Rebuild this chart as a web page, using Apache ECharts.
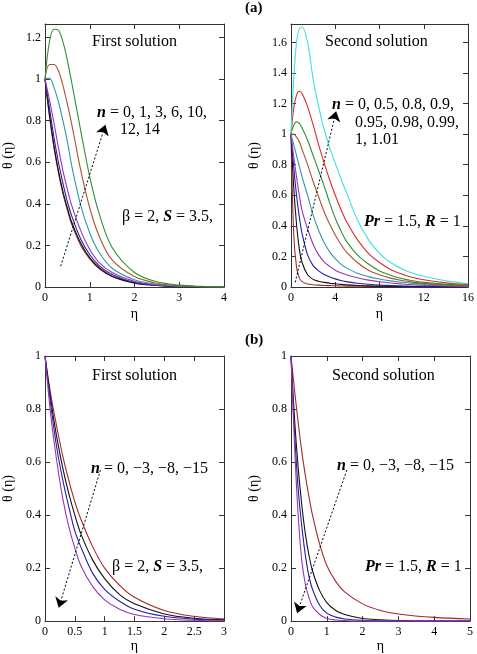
<!DOCTYPE html>
<html>
<head>
<meta charset="utf-8">
<script src="https://cdn.jsdelivr.net/npm/echarts@6/dist/echarts.min.js"></script>
<style>
html, body { margin: 0; padding: 0; background: #fff; }
#chart { width: 477px; height: 654px; }
</style>
</head>
<body>
<div id="chart"></div>
<script>
// (a) first solution: n = 0, 1, 3, 6, 10, 12, 14
const etaA1 = [0, 0.1, 0.2, 0.3, 0.4, 0.5, 0.6, 0.8, 1.0, 1.2, 1.5, 2.0, 2.5, 3.0, 3.5, 4.0];
const a1_n0  = [1, 0.82, 0.67, 0.55, 0.45, 0.37, 0.30, 0.20, 0.135, 0.09, 0.05, 0.018, 0.007, 0.003, 0.001, 0];
const a1_n1  = [1, 0.83, 0.68, 0.56, 0.46, 0.38, 0.31, 0.21, 0.14, 0.095, 0.052, 0.02, 0.008, 0.003, 0.001, 0];
const a1_n3  = [1, 0.86, 0.72, 0.60, 0.50, 0.41, 0.34, 0.23, 0.155, 0.105, 0.06, 0.022, 0.009, 0.003, 0.001, 0];
const a1_n6  = [1, 0.90, 0.79, 0.67, 0.56, 0.47, 0.39, 0.27, 0.18, 0.12, 0.07, 0.027, 0.01, 0.004, 0.001, 0];
const a1_n10 = [1, 1.005, 0.96, 0.89, 0.80, 0.70, 0.58, 0.39, 0.26, 0.17, 0.09, 0.035, 0.013, 0.005, 0.002, 0];
const a1_n12 = [1, 1.07, 1.07, 1.04, 0.97, 0.88, 0.78, 0.56, 0.38, 0.25, 0.13, 0.05, 0.018, 0.006, 0.002, 0];
const a1_n14 = [1, 1.18, 1.24, 1.235, 1.18, 1.09, 0.98, 0.75, 0.53, 0.36, 0.19, 0.07, 0.025, 0.009, 0.003, 0];

// (a) second solution: n = 0, 0.5, 0.8, 0.9, 0.95, 0.98, 0.99, 1, 1.01
const etaA2 = [0, 0.25, 0.5, 0.75, 1, 1.5, 2, 2.5, 3, 3.5, 4, 4.5, 5, 6, 7, 8, 9, 10, 11, 12, 14, 16];
const a2_n0   = [1, 0.34, 0.13, 0.06, 0.035, 0.02, 0.015, 0.012, 0.01, 0.009, 0.008, 0.007, 0.006, 0.005, 0.004, 0.004, 0.003, 0.003, 0.002, 0.002, 0.002, 0.001];
const a2_n05  = [1, 0.65, 0.41, 0.25, 0.16, 0.08, 0.05, 0.037, 0.03, 0.025, 0.021, 0.017, 0.014, 0.01, 0.008, 0.006, 0.005, 0.004, 0.003, 0.003, 0.002, 0.001];
const a2_n08  = [1, 0.78, 0.60, 0.46, 0.35, 0.21, 0.14, 0.105, 0.082, 0.066, 0.053, 0.043, 0.035, 0.025, 0.018, 0.013, 0.01, 0.007, 0.005, 0.004, 0.002, 0.001];
const a2_n09  = [1, 0.85, 0.72, 0.60, 0.50, 0.38, 0.28, 0.21, 0.165, 0.135, 0.11, 0.093, 0.08, 0.06, 0.045, 0.034, 0.026, 0.02, 0.015, 0.012, 0.007, 0.004];
const a2_n095 = [1, 0.93, 0.86, 0.79, 0.72, 0.60, 0.47, 0.37, 0.29, 0.23, 0.185, 0.15, 0.125, 0.09, 0.068, 0.052, 0.04, 0.031, 0.024, 0.019, 0.011, 0.006];
const a2_n098 = [1, 1.0, 0.98, 0.95, 0.90, 0.80, 0.69, 0.59, 0.49, 0.41, 0.34, 0.28, 0.23, 0.16, 0.11, 0.08, 0.058, 0.043, 0.032, 0.024, 0.014, 0.008];
const a2_n099 = [1, 1.06, 1.08, 1.07, 1.04, 0.96, 0.86, 0.76, 0.66, 0.55, 0.45, 0.37, 0.30, 0.21, 0.15, 0.105, 0.077, 0.056, 0.041, 0.03, 0.017, 0.01];
const a2_n1   = [1, 1.17, 1.255, 1.28, 1.265, 1.18, 1.06, 0.93, 0.81, 0.70, 0.60, 0.51, 0.43, 0.31, 0.22, 0.16, 0.115, 0.085, 0.062, 0.047, 0.027, 0.015];
const a2_n101 = [1, 1.36, 1.60, 1.69, 1.70, 1.60, 1.36, 1.18, 1.03, 0.91, 0.81, 0.71, 0.62, 0.44, 0.31, 0.22, 0.16, 0.12, 0.09, 0.07, 0.04, 0.022];

// (b) first solution: n = 0, -3, -8, -15
const etaB1 = [0, 0.1, 0.2, 0.3, 0.4, 0.5, 0.6, 0.8, 1.0, 1.25, 1.5, 2.0, 2.5, 3.0];
const b1_n0   = [1, 0.85, 0.73, 0.62, 0.53, 0.45, 0.385, 0.28, 0.20, 0.135, 0.09, 0.04, 0.018, 0.008];
const b1_nm3  = [1, 0.83, 0.69, 0.575, 0.48, 0.40, 0.33, 0.23, 0.16, 0.10, 0.065, 0.027, 0.011, 0.005];
const b1_nm8  = [1, 0.81, 0.65, 0.53, 0.43, 0.34, 0.28, 0.18, 0.12, 0.075, 0.045, 0.018, 0.007, 0.003];
const b1_nm15 = [1, 0.77, 0.60, 0.46, 0.355, 0.275, 0.21, 0.13, 0.08, 0.045, 0.025, 0.009, 0.003, 0.001];

// (b) second solution: n = 0, -3, -8, -15
const etaB2 = [0, 0.1, 0.2, 0.3, 0.4, 0.5, 0.6, 0.8, 1.0, 1.25, 1.5, 2.0, 2.5, 3.0, 4.0, 5.0];
const b2_n0   = [1, 0.87, 0.75, 0.64, 0.55, 0.47, 0.40, 0.29, 0.21, 0.15, 0.11, 0.065, 0.04, 0.027, 0.014, 0.008];
const b2_nm3  = [1, 0.76, 0.58, 0.44, 0.33, 0.25, 0.19, 0.115, 0.07, 0.04, 0.025, 0.01, 0.005, 0.002, 0, 0];
const b2_nm8  = [1, 0.71, 0.50, 0.36, 0.25, 0.17, 0.12, 0.06, 0.03, 0.015, 0.008, 0.003, 0.001, 0, 0, 0];
const b2_nm15 = [1, 0.66, 0.40, 0.23, 0.14, 0.09, 0.055, 0.025, 0.01, 0.004, 0.002, 0, 0, 0, 0, 0];

const C = {
    darkred: '#a3282c', black: '#111111', blue: '#2020a8', purple: '#9a34b4',
    teal: '#2a9ca8', brown: '#a8552e', green: '#2f8f2f', red: '#dd2a2a', cyan: '#3ee0e0'
};
const serif = '"Liberation Serif", "DejaVu Serif", serif';

function zip(xs, ys) {
    return xs.map((x, i) => [x, ys[i]]);
}

const panels = [
    { grid: { left: 44, top: 24, width: 180, height: 263 }, x: [0, 4, 1], y: [0, 1.265, 0.2], hideMax: true, nameGap: 20,
      curves: [[a1_n0, C.darkred], [a1_n1, C.black], [a1_n3, C.blue], [a1_n6, C.purple], [a1_n10, C.teal], [a1_n12, C.brown], [a1_n14, C.green]],
      eta: etaA1, arrow: [[0.35, 0.10], [1.35, 0.78]] },
    { grid: { left: 291, top: 24, width: 179, height: 263 }, x: [0, 16, 4], y: [0, 1.72, 0.2], hideMax: true, nameGap: 20,
      curves: [[a2_n0, C.darkred], [a2_n05, C.black], [a2_n08, C.blue], [a2_n09, C.purple], [a2_n095, C.teal], [a2_n098, C.brown], [a2_n099, C.green], [a2_n1, C.red], [a2_n101, C.cyan]],
      eta: etaA2, arrow: [[0.38, 0.03], [4.08, 1.15]] },
    { grid: { left: 44, top: 356, width: 180, height: 266 }, x: [0, 3, 0.5], y: [0, 1, 0.2], hideMax: false, nameGap: 15,
      curves: [[b1_n0, C.darkred], [b1_nm3, C.black], [b1_nm8, C.blue], [b1_nm15, C.purple]],
      eta: etaB1, arrow: [[0.93, 0.57], [0.23, 0.05]] },
    { grid: { left: 291, top: 356, width: 179, height: 266 }, x: [0, 5, 1], y: [0, 1, 0.2], hideMax: false, nameGap: 15,
      curves: [[b2_n0, C.darkred], [b2_nm3, C.black], [b2_nm8, C.blue], [b2_nm15, C.purple]],
      eta: etaB2, arrow: [[1.56, 0.57], [0.17, 0.03]] }
];

const frame = { show: true, onZero: false, lineStyle: { color: '#333', width: 1 } };
const ticks = { show: true, inside: true, length: 5, lineStyle: { color: '#333', width: 1 } };
const labelFont = { fontFamily: serif, fontSize: 12, color: '#000' };

const grid = [], xAxis = [], yAxis = [], series = [];
panels.forEach((p, i) => {
    grid.push(p.grid);
    xAxis.push({
        type: 'value', gridIndex: i, position: 'bottom', min: p.x[0], max: p.x[1], interval: p.x[2],
        axisLine: frame, axisTick: ticks, splitLine: { show: false },
        axisLabel: { ...labelFont, margin: 5 },
        name: 'η', nameLocation: 'middle', nameGap: p.nameGap,
        nameTextStyle: { fontFamily: serif, fontSize: 14, color: '#000' }
    });
    xAxis.push({
        type: 'value', gridIndex: i, position: 'top', min: p.x[0], max: p.x[1], interval: p.x[2],
        axisLine: frame, axisTick: ticks, splitLine: { show: false }, axisLabel: { show: false }
    });
    yAxis.push({
        type: 'value', gridIndex: i, position: 'left', min: p.y[0], max: p.y[1], interval: p.y[2],
        axisLine: frame, axisTick: ticks, splitLine: { show: false },
        axisLabel: { ...labelFont, margin: 4, showMaxLabel: !p.hideMax },
        name: 'θ (η)', nameLocation: 'middle', nameGap: 30, nameRotate: 90,
        nameTextStyle: { fontFamily: serif, fontSize: 14, color: '#000' }
    });
    yAxis.push({
        type: 'value', gridIndex: i, position: 'right', min: p.y[0], max: p.y[1], interval: p.y[2],
        axisLine: frame, axisTick: ticks, splitLine: { show: false }, axisLabel: { show: false }
    });
    p.curves.forEach(([ys, color], k) => {
        const s = {
            type: 'line', xAxisIndex: 2 * i, yAxisIndex: 2 * i, data: zip(p.eta, ys),
            smooth: 0.35, symbol: 'none', clip: true,
            lineStyle: { color: color, width: 1.1 }, silent: true
        };
        if (k === 0) {
            // dotted arrow showing the direction of increasing / decreasing n
            s.markLine = {
                silent: true, symbol: ['none', 'arrow'], symbolSize: 10,
                label: { show: false },
                itemStyle: { color: '#000' },
                lineStyle: { type: [2, 2], color: '#000', width: 1 },
                emphasis: { disabled: true },
                data: [[{ coord: p.arrow[0] }, { coord: p.arrow[1] }]]
            };
        }
        series.push(s);
    });
});

const rich = { b: { fontFamily: serif, fontSize: 16, fontWeight: 'bold', fontStyle: 'italic', fill: '#000' } };
function txt(str, left, cy, extra) {
    return {
        type: 'text', left: left, top: cy - 9, silent: true,
        style: Object.assign({ text: str, fontFamily: serif, fontSize: 16, fill: '#000', rich: rich }, extra || {})
    };
}

const graphic = [
    txt('(a)', 245, 10, { fontWeight: 'bold', fontSize: 15 }),
    txt('(b)', 245, 342, { fontWeight: 'bold', fontSize: 15 }),
    txt('First solution', 92, 43),
    txt('{b|n} = 0, 1, 3, 6, 10,', 97, 114),
    txt('12, 14', 120, 131),
    txt('β = 2, {b|S} = 3.5,', 122, 218),
    txt('Second solution', 325, 43),
    txt('{b|n} = 0, 0.5, 0.8, 0.9,', 332, 106),
    txt('0.95, 0.98, 0.99,', 355, 123.5),
    txt('1, 1.01', 355, 141),
    txt('{b|Pr} = 1.5, {b|R} = 1', 364, 223),
    txt('First solution', 92, 377),
    txt('{b|n} = 0, −3, −8, −15', 91, 470),
    txt('β = 2, {b|S} = 3.5,', 112, 568),
    txt('Second solution', 332, 377),
    txt('{b|n} = 0, −3, −8, −15', 337, 467),
    txt('{b|Pr} = 1.5, {b|R} = 1', 365, 568)
];

const chart = echarts.init(document.getElementById('chart'));
chart.setOption({
    animation: false,
    backgroundColor: '#fff',
    grid: grid,
    xAxis: xAxis,
    yAxis: yAxis,
    series: series,
    graphic: graphic
});
</script>
</body>
</html>
